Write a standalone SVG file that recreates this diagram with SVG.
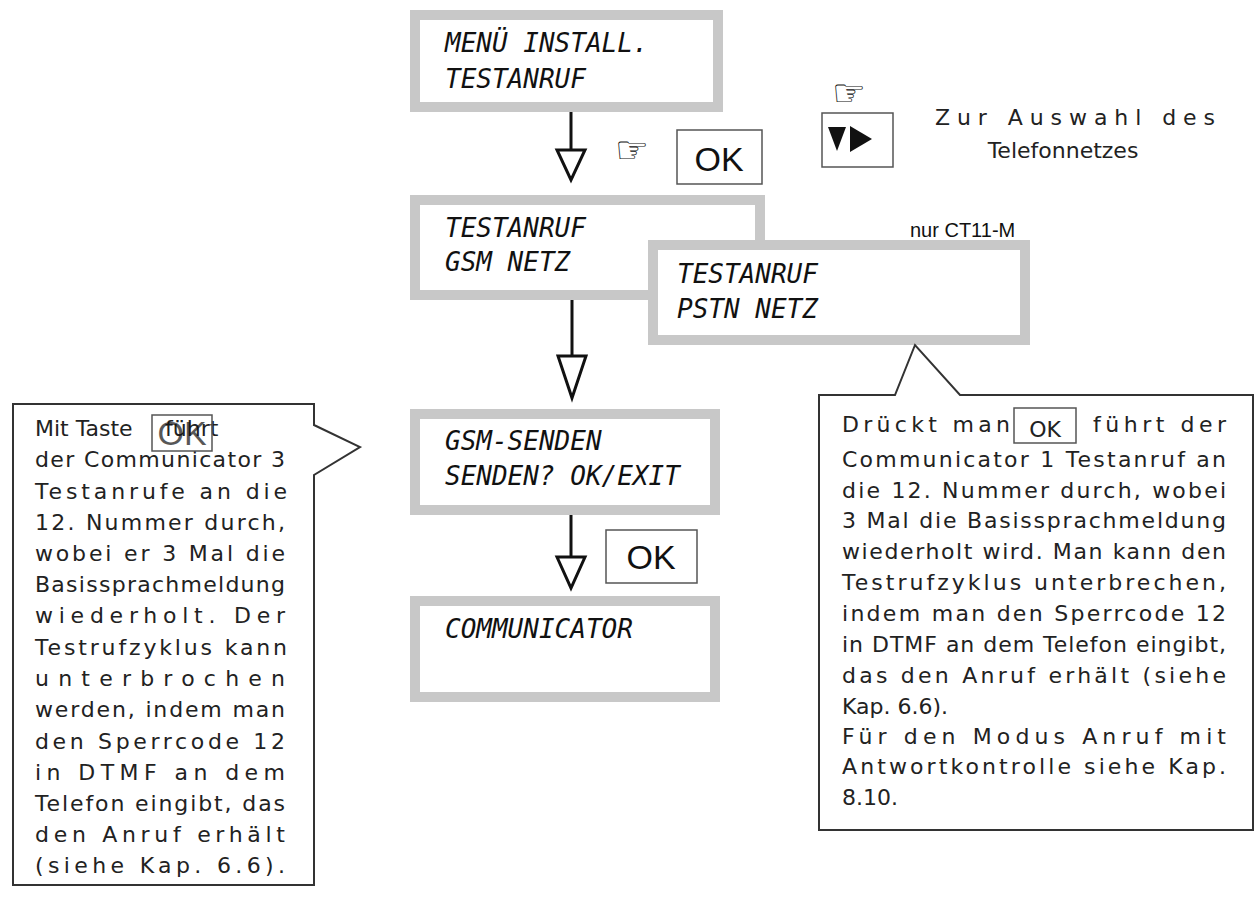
<svg xmlns="http://www.w3.org/2000/svg" width="1260" height="915" viewBox="0 0 1260 915">
<style>
.lcd{fill:#fff;stroke:#c8c8c8;stroke-width:10}
.lt{font-family:"DejaVu Sans Mono",monospace;font-style:italic;font-size:26px;fill:#111}
.t{font-family:"DejaVu Sans",Verdana,sans-serif;font-size:22px;fill:#222}
.ok{fill:#fff;stroke:#555;stroke-width:1.5}
.okt{font-family:"Liberation Sans Narrow","Liberation Sans",sans-serif;font-size:34px;fill:#111}
.ln{stroke:#111;stroke-width:3;fill:none}
.tri{fill:#fff;stroke:#111;stroke-width:3}
.co{fill:#fff;stroke:#333;stroke-width:2}
</style>
<g id="connectors">
<line class="ln" x1="571" y1="110" x2="571" y2="150"/>
<polygon class="tri" points="557,150 585,150 571,180"/>
<line class="ln" x1="572" y1="300" x2="572" y2="356"/>
<polygon class="tri" points="558,356 586,356 572,398"/>
<line class="ln" x1="571" y1="515" x2="571" y2="557"/>
<polygon class="tri" points="557,557 585,557 571,588"/>
</g>
<g id="n1"><rect class="lcd" x="415" y="15" width="303" height="92"/>
<text class="lt" x="445" y="52">MENÜ INSTALL.</text><text class="lt" x="445" y="88">TESTANRUF</text></g>
<g id="n2"><rect class="lcd" x="415" y="200" width="345" height="95"/>
<text class="lt" x="445" y="237">TESTANRUF</text><text class="lt" x="445" y="271">GSM NETZ</text></g>
<g id="n3"><rect class="lcd" x="653" y="245" width="372" height="95"/>
<text class="lt" x="677" y="283">TESTANRUF</text><text class="lt" x="677" y="318">PSTN NETZ</text></g>
<g id="n4"><rect class="lcd" x="415" y="414" width="300" height="96"/>
<text class="lt" x="445" y="450">GSM-SENDEN</text><text class="lt" x="445" y="485">SENDEN? OK/EXIT</text></g>
<g id="n5"><rect class="lcd" x="415" y="601" width="300" height="96"/>
<text class="lt" x="445" y="638">COMMUNICATOR</text></g>
<g id="ok1"><text x="615" y="163" font-family="DejaVu Sans,sans-serif" font-size="38" fill="#111">☞</text>
<rect class="ok" x="677" y="130" width="85" height="54"/><text class="okt" x="719" y="171" text-anchor="middle">OK</text></g>
<g id="ok2"><rect class="ok" x="606" y="530" width="91" height="53"/><text class="okt" x="651" y="569" text-anchor="middle">OK</text></g>
<g id="sel"><text x="832" y="106" font-family="DejaVu Sans,sans-serif" font-size="38" fill="#111">☞</text>
<rect class="ok" x="822" y="113" width="71" height="54"/>
<polygon points="828,127 846,127 837,151" fill="#111"/><polygon points="850,126 872,139 850,152" fill="#111"/>
<text class="t" x="935" y="125" textLength="280" lengthAdjust="spacing">Zur Auswahl des</text>
<text class="t" x="1063" y="158" text-anchor="middle">Telefonnetzes</text></g>
<text x="910" y="237" font-family="Liberation Sans Narrow,Liberation Sans,sans-serif" font-size="20" fill="#111">nur CT11-M</text>
<g id="cl">
<path class="co" d="M13,404 H314 V425 L360,447 L314,475 V885 H13 Z"/>
<g class="t">
<text x="35" y="436">Mit Taste</text><text x="165" y="436">führt</text>
<text x="35" y="467" textLength="250" lengthAdjust="spacing">der Communicator 3</text>
<text x="35" y="499" textLength="252" lengthAdjust="spacing">Testanrufe an die</text>
<text x="35" y="530" textLength="250" lengthAdjust="spacing">12. Nummer durch,</text>
<text x="35" y="561" textLength="250" lengthAdjust="spacing">wobei er 3 Mal die</text>
<text x="35" y="592" textLength="250" lengthAdjust="spacing">Basissprachmeldung</text>
<text x="35" y="623" textLength="250" lengthAdjust="spacing">wiederholt. Der</text>
<text x="35" y="655" textLength="252" lengthAdjust="spacing">Testrufzyklus kann</text>
<text x="35" y="686" textLength="250" lengthAdjust="spacing">unterbrochen</text>
<text x="35" y="717" textLength="250" lengthAdjust="spacing">werden, indem man</text>
<text x="35" y="749" textLength="250" lengthAdjust="spacing">den Sperrcode 12</text>
<text x="35" y="780" textLength="250" lengthAdjust="spacing">in DTMF an dem</text>
<text x="35" y="811" textLength="250" lengthAdjust="spacing">Telefon eingibt, das</text>
<text x="35" y="842" textLength="250" lengthAdjust="spacing">den Anruf erhält</text>
<text x="35" y="873" textLength="250" lengthAdjust="spacing">(siehe Kap. 6.6).</text>
</g>
<rect x="152" y="415" width="60" height="36" fill="none" stroke="#555" stroke-width="1.5"/>
<text class="okt" x="182" y="445" text-anchor="middle" font-size="28" opacity="0.7">OK</text>
</g>
<g id="cr">
<path class="co" d="M819,395 H895 L915,345 L960,395 H1253 V830 H819 Z"/>
<rect class="ok" x="1014" y="408" width="62" height="35"/>
<text class="t" x="1045" y="437" text-anchor="middle">OK</text>
<g class="t">
<text x="842" y="432" textLength="168" lengthAdjust="spacing">Drückt man</text>
<text x="1093" y="432" textLength="133" lengthAdjust="spacing">führt der</text>
<text x="842" y="467" textLength="384" lengthAdjust="spacing">Communicator 1 Testanruf an</text>
<text x="842" y="498" textLength="384" lengthAdjust="spacing">die 12. Nummer durch, wobei</text>
<text x="842" y="528" textLength="384" lengthAdjust="spacing">3 Mal die Basissprachmeldung</text>
<text x="842" y="559" textLength="384" lengthAdjust="spacing">wiederholt wird. Man kann den</text>
<text x="842" y="590" textLength="384" lengthAdjust="spacing">Testrufzyklus unterbrechen,</text>
<text x="842" y="621" textLength="384" lengthAdjust="spacing">indem man den Sperrcode 12</text>
<text x="842" y="652" textLength="384" lengthAdjust="spacing">in DTMF an dem Telefon eingibt,</text>
<text x="842" y="683" textLength="384" lengthAdjust="spacing">das den Anruf erhält (siehe</text>
<text x="842" y="714">Kap. 6.6).</text>
<text x="842" y="744" textLength="384" lengthAdjust="spacing">Für den Modus Anruf mit</text>
<text x="842" y="774" textLength="384" lengthAdjust="spacing">Antwortkontrolle siehe Kap.</text>
<text x="842" y="805">8.10.</text>
</g></g>
</svg>
